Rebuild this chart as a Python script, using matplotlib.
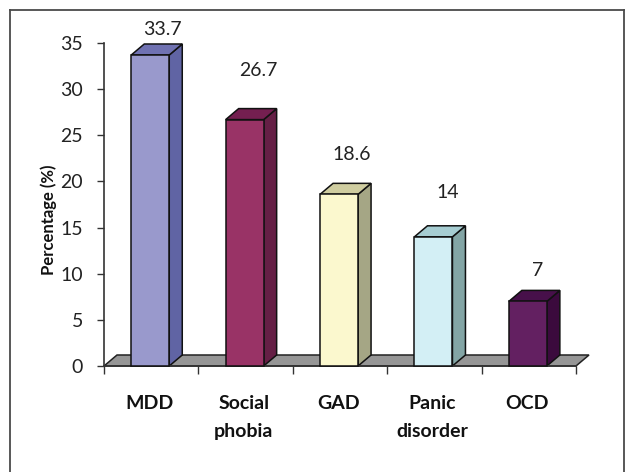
import matplotlib
matplotlib.use('Agg')
import matplotlib.pyplot as plt
from matplotlib.patches import Polygon

categories = ['MDD', 'Social\nphobia', 'GAD', 'Panic\ndisorder', 'OCD']
values = [33.7, 26.7, 18.6, 14, 7]
value_labels = ['33.7', '26.7', '18.6', '14', '7']
yticks = [0, 5, 10, 15, 20, 25, 30, 35]

front = ['#9999cc', '#993366', '#fbf8ce', '#d3eff5', '#632061']
side = ['#6064a4', '#651f45', '#a5a685', '#83a5a5', '#3b0a3d']
top = ['#7072b2', '#741f50', '#cfcda0', '#a6cdd2', '#47104a']

W, H = 625, 472
plt.rcParams['font.family'] = ['Lato', 'DejaVu Sans']

fig = plt.figure(figsize=(W / 100, H / 100), dpi=100)
# plot area in pixels: x 104-576, y 43-366
ax = fig.add_axes([104 / W, 1 - 366 / H, 472 / W, 323 / H])
ax.set_xlim(0, 5)
ax.set_ylim(0, 35)
ax.patch.set_alpha(0)

# depth of the fake 3d, in data units
dx = 13 / (472 / 5)
dy = 11 / (323 / 35)
bw = 38 / (472 / 5)

# floor
ax.add_patch(Polygon([(0, 0), (dx, dy), (5 + dx, dy), (5, 0)], closed=True,
                     fc='#969696', ec='#222222', lw=1.1, clip_on=False, zorder=1))

for i, v in enumerate(values):
    x0 = i + 0.49 - bw / 2
    x1 = x0 + bw
    ax.add_patch(Polygon([(x1, 0), (x1 + dx, dy), (x1 + dx, v + dy), (x1, v)], closed=True,
                         fc=side[i], ec='#111111', lw=1.1, clip_on=False, zorder=2))
    ax.add_patch(Polygon([(x0, v), (x0 + dx, v + dy), (x1 + dx, v + dy), (x1, v)], closed=True,
                         fc=top[i], ec='#111111', lw=1.1, clip_on=False, zorder=2))
    ax.add_patch(Polygon([(x0, 0), (x0, v), (x1, v), (x1, 0)], closed=True,
                         fc=front[i], ec='#111111', lw=1.1, clip_on=False, zorder=3))

# value labels sit at uneven heights in the original
label_y = [36.5, 32.0, 22.9, 18.75, 10.4]
label_x = [0.614, 1.631, 2.627, 3.644, 4.597]
for x, y, s in zip(label_x, label_y, value_labels):
    ax.text(x, y, s, ha='center', va='center', fontsize=14, color='#222222', clip_on=False)

for s in ['top', 'right']:
    ax.spines[s].set_visible(False)
for s in ['left', 'bottom']:
    ax.spines[s].set_color('#333333')
    ax.spines[s].set_linewidth(1.2)

ax.set_yticks(yticks)
ax.set_xticks([0, 1, 2, 3, 4, 5])
ax.set_xticklabels([])
ax.tick_params(axis='y', direction='out', length=5, width=1, color='#333333', labelsize=14,
               labelcolor='#222222', pad=10)
ax.tick_params(axis='x', direction='out', length=6, width=1, color='#333333')

for i, c in enumerate(categories):
    ax.annotate(c, xy=(i + 0.48, 0), xytext=(0, -21), textcoords='offset points',
                ha='center', va='top', fontsize=14, fontweight='bold', color='#111111',
                linespacing=1.78, annotation_clip=False)

ax.set_ylabel('Percentage (%)', fontsize=12, fontweight='bold', color='#111111', labelpad=2.5, y=0.452)

# frame: left, top and right only, the bottom is cropped off
for xs, ys in [((9.5, 9.5), (472, 9.5)), ((9.5, 624), (9.5, 9.5)), ((624, 624), (9.5, 472))]:
    fig.add_artist(plt.Line2D([x / W for x in xs], [1 - y / H for y in ys],
                              transform=fig.transFigure, color='#4a4a4a', lw=1.3))

fig.savefig('out.png', dpi=100)
